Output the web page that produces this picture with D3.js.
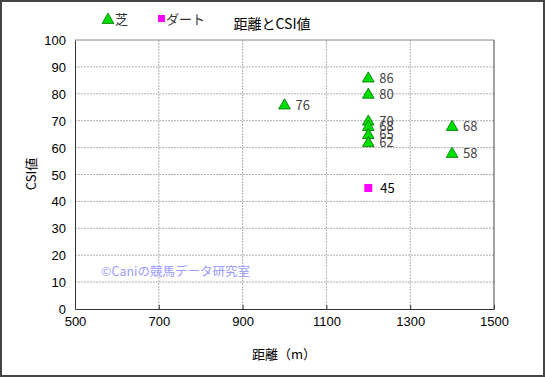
<!DOCTYPE html>
<html><head><meta charset="utf-8">
<script src="https://cdn.jsdelivr.net/npm/d3@7"></script>
<style>
body{margin:0;background:#fff;}
svg{display:block;font-family:"Noto Sans CJK JP","Noto Sans",sans-serif;}
</style></head>
<body><svg id="c" width="545" height="377"></svg>
<script>
const turfDist = [1000,1200,1200,1200,1200,1200,1200,1400,1400];
const turfCSI  = [76,86,80,70,68,65,62,68,58];
const dirtDist = [1200];
const dirtCSI  = [45];
const xTicks = [500,700,900,1100,1300,1500];
const yTicks = [0,10,20,30,40,50,60,70,80,90,100];

const svg = d3.select("#c");
const m = {l:75, r:51, t:40, b:68};
const W = 545, H = 377;
const x = d3.scaleLinear().domain([500,1500]).range([m.l, W-m.r]);
const y = d3.scaleLinear().domain([0,100]).range([H-m.b, m.t]);

svg.append("rect").attr("x",1).attr("y",1).attr("width",W-2).attr("height",H-2)
  .attr("fill","#fff").attr("stroke","#444").attr("stroke-width",2);

// grid
const g = svg.append("g");
g.selectAll(".gy").data(yTicks.filter(d=>d>0&&d<100)).join("line")
  .attr("x1",x(500)).attr("x2",x(1500)).attr("y1",d=>y(d)).attr("y2",d=>y(d))
  .attr("stroke","#b0b0b0").attr("stroke-dasharray","2,1");
g.selectAll(".gx").data(xTicks.filter(d=>d>500&&d<1500)).join("line")
  .attr("y1",y(0)).attr("y2",y(100)).attr("x1",d=>x(d)).attr("x2",d=>x(d))
  .attr("stroke","#b0b0b0").attr("stroke-dasharray","2,1");

// frame
svg.append("line").attr("x1",x(500)).attr("x2",x(1500)).attr("y1",y(100)).attr("y2",y(100)).attr("stroke","#888");
svg.append("line").attr("x1",x(1500)).attr("x2",x(1500)).attr("y1",y(100)).attr("y2",y(0)).attr("stroke","#444");

const xa = svg.append("g").attr("transform",`translate(0,${y(0)})`)
  .call(d3.axisBottom(x).tickValues(xTicks).tickFormat(d3.format("d")).tickSize(-4).tickSizeOuter(0).tickPadding(8));
const ya = svg.append("g").attr("transform",`translate(${x(500)},0)`)
  .call(d3.axisLeft(y).tickValues(yTicks).tickFormat(d3.format("d")).tickSize(0).tickPadding(9));
[xa,ya].forEach(a=>{
  a.select(".domain").attr("stroke","#333");
  a.selectAll(".tick line").attr("stroke","#333");
  a.selectAll("text").attr("font-size",13).attr("fill","#000");
});
ya.selectAll(".tick text").attr("dy","0.35em");

// watermark
svg.append("text").attr("x",101).attr("y",276).attr("fill","#9a9aff").attr("font-size",12.5)
  .text("©Caniの競馬データ研究室");

const tri = d3.symbol().type(d3.symbolTriangle).size(60);
const turf = turfDist.map((d,i)=>({d, v:turfCSI[i]}));
svg.selectAll(".t").data(turf).join("path")
  .attr("d",tri).attr("transform",p=>`translate(${x(p.d)},${y(p.v)+1})`)
  .attr("fill","#00e000").attr("stroke","#007000").attr("stroke-width",0.8);
svg.selectAll(".tl").data(turf).join("text")
  .attr("x",p=>x(p.d)+11).attr("y",p=>y(p.v)+5).attr("font-size",13).attr("fill","#444")
  .text(p=>p.v);

const dirt = dirtDist.map((d,i)=>({d, v:dirtCSI[i]}));
svg.selectAll(".dm").data(dirt).join("rect")
  .attr("x",p=>x(p.d)-4).attr("y",p=>y(p.v)-4).attr("width",8).attr("height",8).attr("fill","#ff00ff");
svg.selectAll(".dl").data(dirt).join("text")
  .attr("x",p=>x(p.d)+12).attr("y",p=>y(p.v)+5).attr("font-size",13).attr("fill","#000")
  .text(p=>p.v);

// titles
svg.append("text").attr("x",272).attr("y",29).attr("text-anchor","middle").attr("font-size",14).text("距離とCSI値");
svg.append("text").attr("x",284).attr("y",359).attr("text-anchor","middle").attr("font-size",13).text("距離（m）");
svg.append("text").attr("transform","translate(36,174) rotate(-90)").attr("text-anchor","middle").attr("font-size",13).text("CSI値");

// legend
svg.append("path").attr("d",tri).attr("transform","translate(108,20)").attr("fill","#00e000").attr("stroke","#007000").attr("stroke-width",0.8);
svg.append("text").attr("x",115).attr("y",24).attr("font-size",13).attr("fill","#333").text("芝");
svg.append("rect").attr("x",158).attr("y",15).attr("width",7).attr("height",7).attr("fill","#ff00ff");
svg.append("text").attr("x",166).attr("y",24).attr("font-size",13).attr("fill","#333").text("ダート");
</script></body></html>
